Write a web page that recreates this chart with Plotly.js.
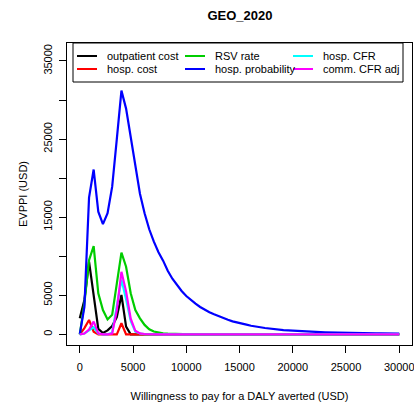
<!DOCTYPE html>
<html>
<head>
<meta charset="utf-8">
<script src="https://cdn.plot.ly/plotly-3.0.1.min.js"></script>
<style>
  html, body { margin: 0; padding: 0; background: #fff; }
  #chart { width: 414px; height: 410px; }
</style>
</head>
<body>
<div id="chart"></div>
<script>
// Willingness-to-pay grid (USD per DALY averted)
var wtp = [0, 435, 870, 1304, 1739, 2174, 2609, 3043, 3478, 3913,
  4348, 4783, 5217, 5652, 6087, 6522, 6957, 7391, 7826, 8261,
  8696, 9130, 9565, 10000, 10435, 10870, 11304, 11739, 12174, 12609,
  13043, 13478, 13913, 14348, 14783, 15217, 15652, 16087, 16522, 16957,
  17391, 17826, 18261, 18696, 19130, 19565, 20000, 20435, 20870, 21304,
  21739, 22174, 22609, 23043, 23478, 23913, 24348, 24783, 25217, 25652,
  26087, 26522, 26957, 27391, 27826, 28261, 28696, 29130, 29565, 30000];

// EVPPI (USD) per parameter group
var outpatientCost = [2050, 4400, 9300, 5250, 700, 170, 500, 1050, 2200, 5040,
  980, 0, 0, 0, 0, 0, 0, 0, 0, 0,
  0, 0, 0, 0, 0, 0, 0, 0, 0, 0,
  0, 0, 0, 0, 0, 0, 0, 0, 0, 0,
  0, 0, 0, 0, 0, 0, 0, 0, 0, 0,
  0, 0, 0, 0, 0, 0, 0, 0, 0, 0,
  0, 0, 0, 0, 0, 0, 0, 0, 0, 0];

var hospCost = [0, 800, 1840, 340, 0, 0, 0, 0, 0, 1420,
  0, 0, 0, 0, 0, 0, 0, 0, 0, 0,
  0, 0, 0, 0, 0, 0, 0, 0, 0, 0,
  0, 0, 0, 0, 0, 0, 0, 0, 0, 0,
  0, 0, 0, 0, 0, 0, 0, 0, 0, 0,
  0, 0, 0, 0, 0, 0, 0, 0, 0, 0,
  0, 0, 0, 0, 0, 0, 0, 0, 0, 0];

var rsvRate = [0, 4000, 9500, 11300, 5250, 3100, 1900, 2500, 6500, 10450,
  8650, 5250, 3100, 2050, 1200, 650, 350, 200, 120, 80,
  50, 30, 20, 10, 0, 0, 0, 0, 0, 0,
  0, 0, 0, 0, 0, 0, 0, 0, 0, 0,
  0, 0, 0, 0, 0, 0, 0, 0, 0, 0,
  0, 0, 0, 0, 0, 0, 0, 0, 0, 0,
  0, 0, 0, 0, 0, 0, 0, 0, 0, 0];

var hospProbability = [0, 3500, 17500, 21100, 15700, 14100, 15500, 18900, 25000, 31200,
  28900, 25200, 21300, 18000, 15500, 13450, 11860, 10500, 9430, 8140,
  7120, 6270, 5545, 4900, 4390, 3920, 3500, 3110, 2820, 2560,
  2300, 2090, 1870, 1660, 1490, 1360, 1230, 1100, 970, 900,
  810, 720, 650, 590, 530, 490, 450, 410, 380, 350,
  320, 300, 280, 260, 240, 220, 205, 190, 180, 170,
  160, 150, 140, 130, 125, 120, 112, 105, 100, 95];

var hospCFR = [0, 100, 500, 900, 100, 0, 0, 200, 3600, 7000,
  4500, 1700, 350, 100, 30, 0, 0, 0, 0, 0,
  0, 0, 0, 0, 0, 0, 0, 0, 0, 0,
  0, 0, 0, 0, 0, 0, 0, 0, 0, 0,
  0, 0, 0, 0, 0, 0, 0, 0, 0, 0,
  0, 0, 0, 0, 0, 0, 0, 0, 0, 0,
  0, 0, 0, 0, 0, 0, 0, 0, 0, 0];

var commCFRAdj = [0, 100, 600, 1620, 130, 0, 0, 100, 3100, 8000,
  5500, 2000, 450, 120, 40, 0, 0, 0, 0, 0,
  0, 0, 0, 0, 0, 0, 0, 0, 0, 0,
  0, 0, 0, 0, 0, 0, 0, 0, 0, 0,
  0, 0, 0, 0, 0, 0, 0, 0, 0, 0,
  0, 0, 0, 0, 0, 0, 0, 0, 0, 0,
  0, 0, 0, 0, 0, 0, 0, 0, 0, 0];

var seriesNames = ['outpatient cost', 'hosp. cost', 'RSV rate',
  'hosp. probability', 'hosp. CFR', 'comm. CFR adj'];
var seriesValues = [outpatientCost, hospCost, rsvRate,
  hospProbability, hospCFR, commCFRAdj];
var seriesColors = ['#000000', '#ff0000', '#00cd00', '#0000ff', '#00ffff', '#ff00ff'];

var yTickVals = [0, 5000, 10000, 15000, 20000, 25000, 30000, 35000];
var yTickText = ['0', '5000', '', '15000', '', '25000', '', '35000'];
var xTickVals = [0, 5000, 10000, 15000, 20000, 25000, 30000];

var W = 414, H = 410;
var M = { l: 67, r: 2, t: 43, b: 65 };
var plotW = W - M.l - M.r, plotH = H - M.t - M.b;
function px2x(px) { return (px - M.l) / plotW; }
function px2y(py) { return 1 - (py - M.t) / plotH; }

var font = 'Liberation Sans, Arial, sans-serif';

var traces = seriesNames.map(function (name, k) {
  return {
    type: 'scatter',
    mode: 'lines',
    name: name,
    x: wtp,
    y: seriesValues[k],
    line: { color: seriesColors[k], width: 2.2 },
    hoverinfo: 'skip',
    showlegend: false
  };
});

// Boxed key at the top of the panel: three columns, filled column by column
var shapes = [{
  type: 'rect', xref: 'paper', yref: 'paper', layer: 'above',
  x0: px2x(73), x1: px2x(403), y0: px2y(82), y1: px2y(43),
  line: { color: '#000000', width: 1 }, fillcolor: '#ffffff'
}];
var annotations = [];
var colLeft = [77, 185, 293];
var rowMid = [56, 69];
seriesNames.forEach(function (name, k) {
  var col = Math.floor(k / 2), row = k % 2;
  var x0 = colLeft[col];
  shapes.push({
    type: 'line', xref: 'paper', yref: 'paper', layer: 'above',
    x0: px2x(x0), x1: px2x(x0 + 20), y0: px2y(rowMid[row]), y1: px2y(rowMid[row]),
    line: { color: seriesColors[k], width: 2 }
  });
  annotations.push({
    xref: 'paper', yref: 'paper', x: px2x(x0 + 28), y: px2y(rowMid[row]),
    xanchor: 'left', yanchor: 'middle', showarrow: false,
    text: name, font: { family: font, size: 11, color: '#000000' }
  });
});

var layout = {
  width: W,
  height: H,
  margin: M,
  paper_bgcolor: '#ffffff',
  plot_bgcolor: '#ffffff',
  font: { family: font, size: 11, color: '#000000' },
  title: {
    text: '<b>GEO_2020</b>',
    font: { family: font, size: 13, color: '#000000' },
    x: 0.5795, xanchor: 'center',
    y: 0.963, yanchor: 'middle'
  },
  showlegend: false,
  shapes: shapes,
  annotations: annotations,
  xaxis: {
    range: [-1200, 31200],
    tickmode: 'array',
    tickvals: xTickVals,
    ticktext: xTickVals.map(String),
    ticks: 'outside',
    ticklen: 7,
    tickcolor: '#000000',
    tickwidth: 1,
    ticklabelstandoff: 5,
    ticklabeloverflow: 'allow',
    showgrid: false,
    zeroline: false,
    showline: true,
    mirror: true,
    linecolor: '#000000',
    linewidth: 1,
    tickfont: { family: font, size: 11, color: '#000000' },
    title: {
      text: 'Willingness to pay for a DALY averted (USD)',
      font: { family: font, size: 11, color: '#000000' },
      standoff: 20
    }
  },
  yaxis: {
    range: [-1370, 37300],
    tickmode: 'array',
    tickvals: yTickVals,
    ticktext: yTickText,
    tickangle: -90,
    ticks: 'outside',
    ticklen: 7,
    tickcolor: '#000000',
    tickwidth: 1,
    ticklabelstandoff: 3,
    showgrid: false,
    zeroline: false,
    showline: true,
    mirror: true,
    linecolor: '#000000',
    linewidth: 1,
    tickfont: { family: font, size: 11, color: '#000000' },
    title: {
      text: 'EVPPI (USD)',
      font: { family: font, size: 11, color: '#000000' },
      standoff: 11
    }
  }
};

Plotly.newPlot('chart', traces, layout, { displayModeBar: false, staticPlot: true });
</script>
</body>
</html>
